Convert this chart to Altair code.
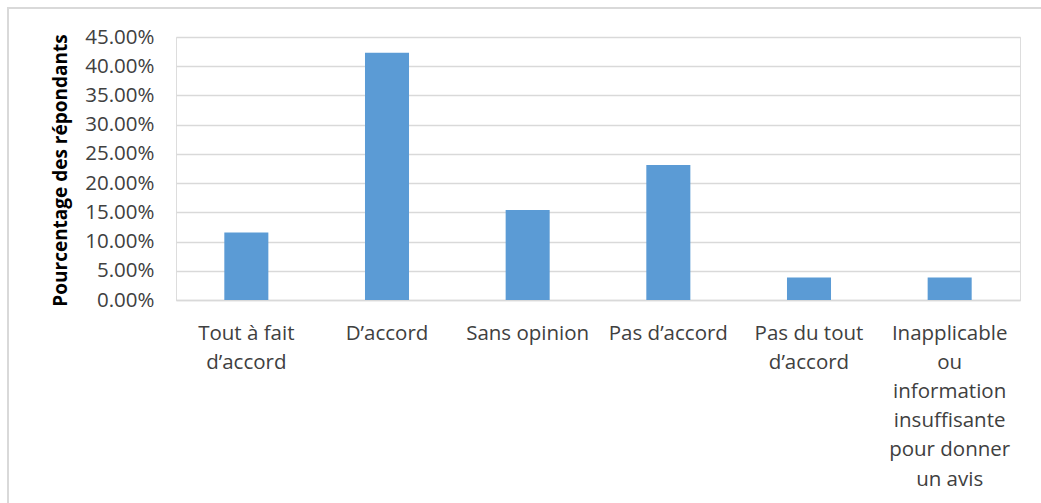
import altair as alt
import pandas as pd

categories = [
    "Tout à fait\nd’accord",
    "D’accord",
    "Sans opinion",
    "Pas d’accord",
    "Pas du tout\nd’accord",
    "Inapplicable\nou\ninformation\ninsuffisante\npour donner\nun avis",
]
values = [0.1154, 0.4231, 0.1538, 0.2308, 0.0385, 0.0385]
y_ticks = [0, 0.05, 0.10, 0.15, 0.20, 0.25, 0.30, 0.35, 0.40, 0.45]

df = pd.DataFrame({"cat": categories, "val": values})

FONT = "Open Sans"
TXT = "#404040"

bars = alt.Chart(df).mark_bar(color="#5B9BD5").encode(
    x=alt.X(
        "cat:N",
        sort=categories,
        scale=alt.Scale(paddingInner=0.687, paddingOuter=0.3435),
        axis=alt.Axis(
            title=None,
            labelAngle=0,
            labelExpr="split(datum.label, '\\n')",
            labelFont=FONT,
            labelFontSize=20.5,
            labelColor=TXT,
            labelLineHeight=29.2,
            labelPadding=23,
            labelBaseline="top",
            ticks=False,
            domain=True,
            domainColor="#d9d9d9",
            domainWidth=1.5,
            grid=False,
            labelLimit=300,
        ),
    ),
    y=alt.Y(
        "val:Q",
        scale=alt.Scale(domain=[0, 0.45], nice=False),
        axis=alt.Axis(
            title="Pourcentage des répondants",
            values=y_ticks,
            format=".2%",
            labelFont=FONT,
            labelFontSize=20.5,
            labelColor=TXT,
            labelPadding=22,
            ticks=False,
            domain=False,
            gridColor="#d9d9d9",
            gridWidth=1.5,
            titleFont=FONT,
            titleFontSize=19,
            titleFontWeight="bold",
            titleColor="#000000",
            titleAngle=-90,
            titleX=-116,
            titleY=133,
            titleAlign="center",
            titleBaseline="middle",
        ),
    ),
)

border = alt.Chart(pd.DataFrame({"b": [1]})).mark_rect(
    fill=None, stroke="#d9d9d9", strokeWidth=2, clip=False
).encode(
    x=alt.value(-168),
    x2=alt.value(880),
    y=alt.value(-29),
    y2=alt.value(500),
)

chart = alt.layer(border, bars).properties(
    width=844,
    height=263,
    autosize=alt.AutoSizeParams(type="none"),
    padding={"left": 176, "top": 37, "right": 21, "bottom": 203},
).configure_view(stroke=None).configure(background="white")

chart.save("out.html", embed_options={"renderer": "svg", "actions": False})
